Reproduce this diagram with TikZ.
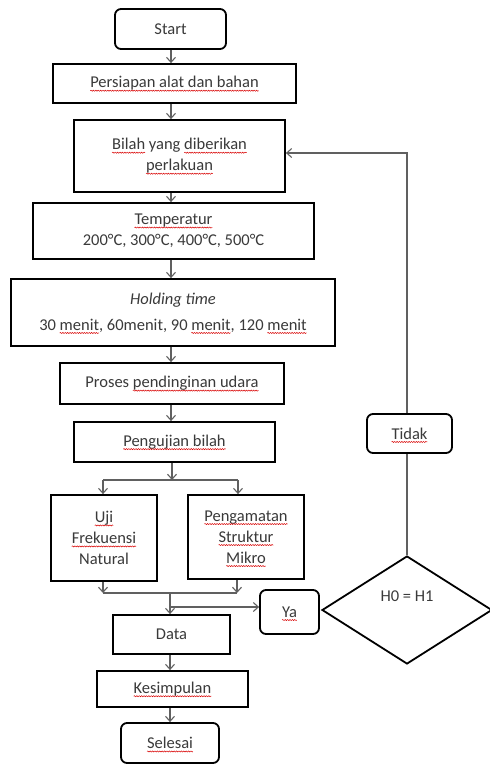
\documentclass[tikz,border=0pt]{standalone}
\usepackage{fontspec}
\setmainfont{Carlito}
\usetikzlibrary{arrows.meta,shapes.geometric,decorations.pathmorphing}
\newsavebox\rwbox
\newcommand\rw[1]{\sbox\rwbox{#1}\leavevmode\rlap{\usebox\rwbox}\tikz[baseline=0pt,x=1pt,y=1pt]{\useasboundingbox (0pt,0pt) rectangle (\the\wd\rwbox,0.1pt);\draw[red!85!black, line width=0.5pt, sharp corners, decorate, decoration={snake,amplitude=0.55pt,segment length=2.4pt}] (0pt,-2.8pt) -- (\the\wd\rwbox,-2.8pt);}}
\definecolor{txt}{HTML}{3A3A3A}
\definecolor{ln}{HTML}{606060}
\begin{document}
\begin{tikzpicture}[x=1pt,y=-1pt,
  every node/.style={font=\fontsize{16.5}{21}\selectfont, text=txt, align=center, inner sep=0pt},
  box/.style={draw=black, line width=1.8pt, fill=white},
  rbox/.style={box, rounded corners=6pt},
  arr/.style={draw=ln, line width=1.1pt, -{Straight Barb[length=5pt,width=9pt,line width=1.1pt]}},
  ln/.style={draw=ln, line width=1.1pt}]
\useasboundingbox (0,0) rectangle (490,764);
\node[rbox, minimum width=111pt, minimum height=40pt] (start) at (170.5,29) {Start};
\node[box, minimum width=243pt, minimum height=39pt] (pers) at (174.5,83.5) {\rw{Persiapan alat dan bahan}};
\node[box, minimum width=211pt, minimum height=72pt] (bilah) at (179.5,156) {\rw{Bilah} yang \rw{diberikan}\\\rw{perlakuan}};
\node[box, minimum width=281pt, minimum height=56pt] (temp) at (173.5,231) {\rw{Temperatur}\\200°C, 300°C, 400°C, 500°C};
\node[box, minimum width=324pt, minimum height=67pt] (hold) at (173,312.5) {\textit{Holding time}\\[5pt]30 \rw{menit}, 60menit, 90 \rw{menit}, 120 \rw{menit}};
\node[box, minimum width=224pt, minimum height=41pt] (pros) at (172,383.5) {Proses \rw{pendinginan udara}};
\node[box, minimum width=201pt, minimum height=40pt] (peng) at (174.5,442) {\rw{Pengujian bilah}};
\node[box, minimum width=106pt, minimum height=86pt] (uji) at (104,538) {\rw{Uji}\\\rw{Frekuensi}\\Natural};
\node[box, minimum width=116pt, minimum height=84pt] (amat) at (246,537) {\rw{Pengamatan}\\\rw{Struktur}\\\rw{Mikro}};
\node[box, minimum width=117pt, minimum height=39pt] (data) at (171.5,634.5) {Data};
\node[box, minimum width=151pt, minimum height=36pt] (kes) at (172.5,689) {\rw{Kesimpulan}};
\node[rbox, minimum width=98pt, minimum height=40pt] (sel) at (170,743) {\rw{Selesai}};
\node[rbox, minimum width=59pt, minimum height=44pt] (ya) at (289.5,612) {\rw{Ya}};
\node[rbox, minimum width=85pt, minimum height=39pt] (tidak) at (409.5,433.5) {\rw{Tidak}};
\node[draw=black, line width=1.8pt, diamond, aspect=1.574, minimum width=170pt, minimum height=108pt] (dia) at (407,610) {H0 = H1\\[6pt]};
% spine coordinates
\coordinate (sp) at (171,0);
\coordinate (split) at (172,480);
\coordinate (spl) at (103,480);
\coordinate (spr) at (238,480);
\coordinate (mrg) at (170,593);
\coordinate (mgl) at (103,593);
\coordinate (mgr) at (237,593);
\coordinate (toya) at (170,607);
% main flow
\draw[arr] (start.south -| sp) -- (pers.north -| sp);
\draw[arr] (pers.south -| sp) -- (bilah.north -| sp);
\draw[arr] (bilah.south -| sp) -- (temp.north -| sp);
\draw[arr] (temp.south -| sp) -- (hold.north -| sp);
\draw[arr] (hold.south -| sp) -- (pros.north -| sp);
\draw[arr] (pros.south -| sp) -- (peng.north -| sp);
\draw[arr] (peng.south -| split) -- (split);
\draw[ln] (spl) -- (spr);
\draw[arr] (spl) -- (uji.north -| spl);
\draw[arr] (spr) -- (amat.north -| spr);
\draw[arr] (uji.south -| mgl) -- (mgl);
\draw[arr] (amat.south -| mgr) -- (mgr);
\draw[ln] (mgl) -- (mgr);
\draw[arr] (mrg) -- (data.north -| mrg);
\draw[arr] (toya) -- (ya.west |- toya);
\draw[arr] (data.south -| mrg) -- (kes.north -| mrg);
\draw[arr] (kes.south -| mrg) -- (sel.north -| mrg);
% feedback
\draw[ln] (dia.north) -- (tidak.south -| dia.north);
\draw[arr] (tidak.north -| dia.north) -- (dia.north |- 0,153) -- (bilah.east |- 0,153);
\end{tikzpicture}
\end{document}
